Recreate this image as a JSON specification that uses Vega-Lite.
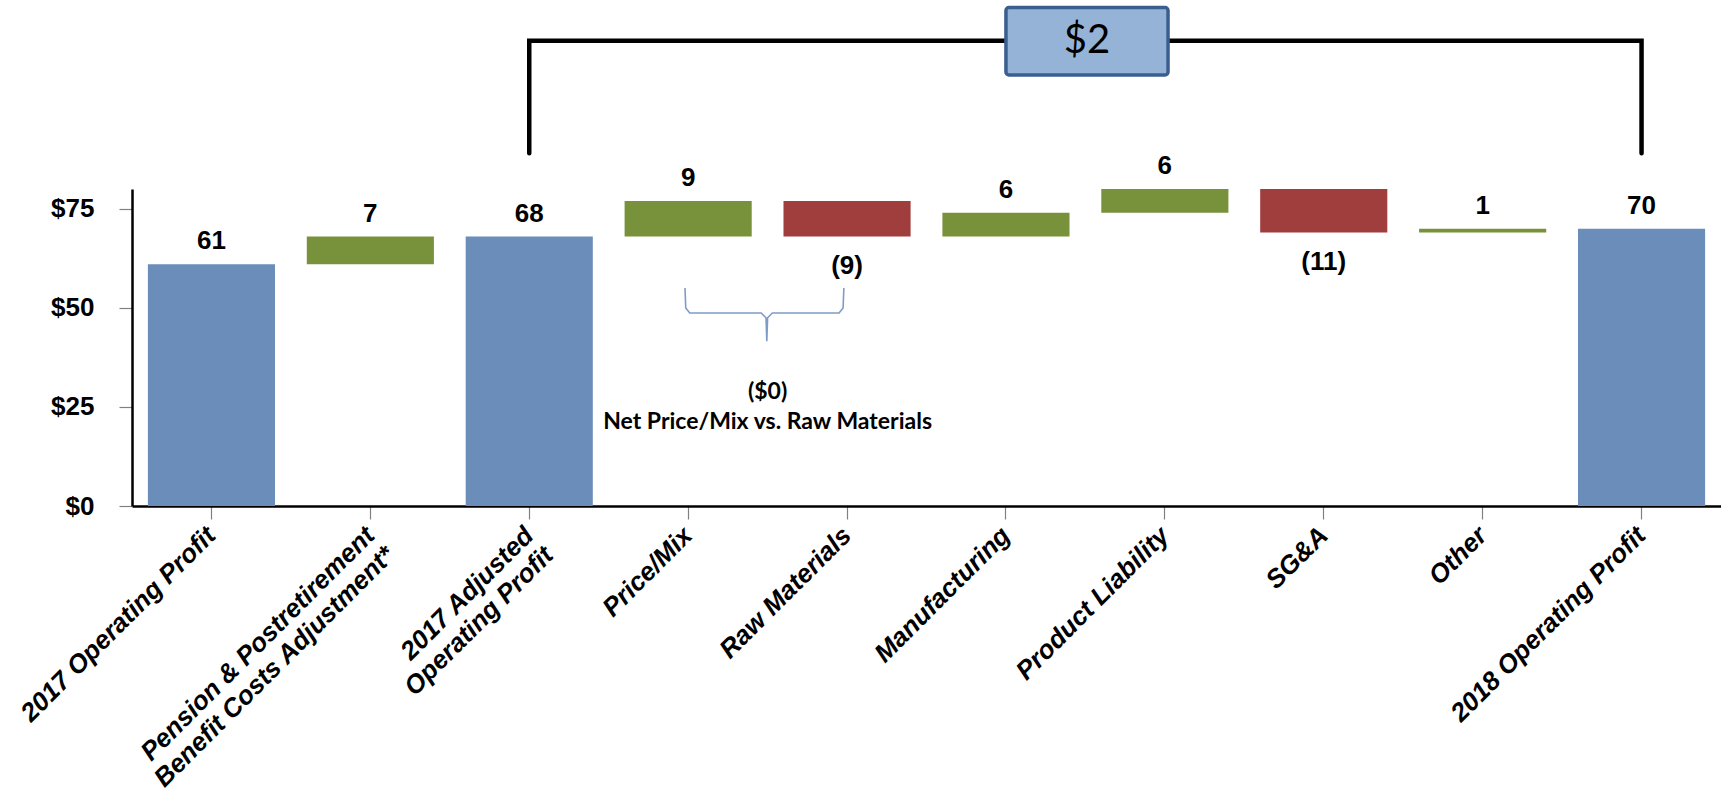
{
  "$schema": "https://vega.github.io/schema/vega-lite/v6.json",
  "width": 1589,
  "height": 317,
  "autosize": {"type": "none"},
  "padding": {"left": 132, "top": 189, "right": 0, "bottom": 291},
  "background": "white",
  "config": {"view": {"stroke": null}},
  "datasets": {
    "bars": [
      {"cat": "2017 Operating Profit", "start": 0, "end": 61, "label": "61", "kind": "total"},
      {"cat": "Pension & Postretirement Benefit Costs Adjustment*", "start": 61, "end": 68, "label": "7", "kind": "inc"},
      {"cat": "2017 Adjusted Operating Profit", "start": 0, "end": 68, "label": "68", "kind": "total"},
      {"cat": "Price/Mix", "start": 68, "end": 77, "label": "9", "kind": "inc"},
      {"cat": "Raw Materials", "start": 77, "end": 68, "label": "(9)", "kind": "dec"},
      {"cat": "Manufacturing", "start": 68, "end": 74, "label": "6", "kind": "inc"},
      {"cat": "Product Liability", "start": 74, "end": 80, "label": "6", "kind": "inc"},
      {"cat": "SG&A", "start": 80, "end": 69, "label": "(11)", "kind": "dec"},
      {"cat": "Other", "start": 69, "end": 70, "label": "1", "kind": "inc"},
      {"cat": "2018 Operating Profit", "start": 0, "end": 70, "label": "70", "kind": "total"}
    ],
    "bracket": [
      {"px": 2.5, "py": 89, "o": 1},
      {"px": 2.5, "py": 117.4, "o": 2},
      {"px": 9.5, "py": 117.4, "o": 3},
      {"px": 9.5, "py": 89, "o": 4}
    ],
    "box": [
      {"x1": 5.5, "x2": 6.52, "y1": 108.8, "y2": 125.8, "xm": 6.01, "ym": 117.3, "label": "$2"}
    ],
    "brace": [
      {"px": 3.48, "py": 55, "o": 1},
      {"px": 3.485, "py": 50, "o": 2},
      {"px": 3.51, "py": 48.7, "o": 3},
      {"px": 3.96, "py": 48.7, "o": 4},
      {"px": 3.99, "py": 47.5, "o": 5},
      {"px": 3.995, "py": 41.6, "o": 6},
      {"px": 4.0, "py": 47.5, "o": 7},
      {"px": 4.03, "py": 48.7, "o": 8},
      {"px": 4.45, "py": 48.7, "o": 9},
      {"px": 4.475, "py": 50, "o": 10},
      {"px": 4.48, "py": 55, "o": 11}
    ],
    "notes": [
      {"px": 4.0, "py": 28.8, "text": "($0)"},
      {"px": 4.0, "py": 21.3, "text": "Net Price/Mix vs. Raw Materials"}
    ]
  },
  "resolve": {"scale": {"x": "independent", "y": "independent"}},
  "layer": [
    {
      "data": {"name": "bars"},
      "encoding": {
        "x": {
          "field": "cat",
          "type": "nominal",
          "sort": null,
          "scale": {"paddingInner": 0.2, "paddingOuter": 0.1},
          "axis": {
            "title": null,
            "labelAngle": -45,
            "labelAlign": "right",
            "labelBaseline": "middle",
            "labelFont": "Liberation Sans",
            "labelFontWeight": "bold",
            "labelFontStyle": "italic",
            "labelFontSize": 26,
            "labelColor": "black",
            "labelLimit": 600,
            "labelPadding": 12,
            "labelLineHeight": 28,
            "labelExpr": "datum.value == 'Pension & Postretirement Benefit Costs Adjustment*' ? ['Pension & Postretirement', 'Benefit Costs Adjustment*'] : datum.value == '2017 Adjusted Operating Profit' ? ['2017 Adjusted', 'Operating Profit'] : datum.value",
            "domainColor": "black",
            "domainWidth": 2.5,
            "tickColor": "#808080",
            "tickSize": 13,
            "tickWidth": 1.2
          }
        }
      },
      "layer": [
        {
          "mark": {"type": "bar"},
          "encoding": {
            "y": {
              "field": "start",
              "type": "quantitative",
              "scale": {"domain": [0, 80], "nice": false},
              "axis": {
                "title": null,
                "values": [0, 25, 50, 75],
                "labelExpr": "'$' + datum.value",
                "labelFont": "Liberation Sans",
                "labelFontWeight": "bold",
                "labelFontSize": 26,
                "labelColor": "black",
                "labelPadding": 25,
                "domainColor": "black",
                "domainWidth": 2.5,
                "tickColor": "#808080",
                "tickSize": 13,
                "tickWidth": 1.2,
                "grid": false
              }
            },
            "y2": {"field": "end"},
            "color": {
              "field": "kind",
              "type": "nominal",
              "scale": {"domain": ["total", "inc", "dec"], "range": ["#6A8DBA", "#78913B", "#A03D3D"]},
              "legend": null
            }
          }
        },
        {
          "transform": [{"filter": "datum.kind != 'dec'"}],
          "mark": {"type": "text", "baseline": "bottom", "dy": -10, "font": "Liberation Sans", "fontWeight": "bold", "fontSize": 26, "color": "black"},
          "encoding": {
            "y": {"field": "end", "type": "quantitative"},
            "text": {"field": "label"}
          }
        },
        {
          "transform": [{"filter": "datum.kind == 'dec'"}],
          "mark": {"type": "text", "baseline": "top", "dy": 16, "font": "Liberation Sans", "fontWeight": "bold", "fontSize": 26, "color": "black"},
          "encoding": {
            "y": {"field": "end", "type": "quantitative"},
            "text": {"field": "label"}
          }
        }
      ]
    },
    {
      "layer": [
        {
          "data": {"name": "bracket"},
          "mark": {"type": "line", "color": "black", "strokeWidth": 4.5, "strokeCap": "round", "strokeJoin": "miter"},
          "encoding": {
            "x": {"field": "px", "type": "quantitative", "scale": {"domain": [0, 10], "nice": false, "zero": false}, "axis": null},
            "y": {"field": "py", "type": "quantitative", "scale": {"domain": [0, 80], "nice": false}, "axis": null},
            "order": {"field": "o"}
          }
        },
        {
          "data": {"name": "box"},
          "mark": {"type": "rect", "fill": "#95B3D7", "stroke": "#3A5F8F", "strokeWidth": 3.5, "cornerRadius": 3},
          "encoding": {
            "x": {"field": "x1", "type": "quantitative"},
            "x2": {"field": "x2"},
            "y": {"field": "y1", "type": "quantitative"},
            "y2": {"field": "y2"}
          }
        },
        {
          "data": {"name": "box"},
          "mark": {"type": "text", "font": "Lato", "fontSize": 40, "color": "black", "baseline": "middle", "align": "center"},
          "encoding": {
            "x": {"field": "xm", "type": "quantitative"},
            "y": {"field": "ym", "type": "quantitative"},
            "text": {"field": "label"}
          }
        },
        {
          "data": {"name": "brace"},
          "mark": {"type": "line", "color": "#7F9CC6", "strokeWidth": 1.6},
          "encoding": {
            "x": {"field": "px", "type": "quantitative"},
            "y": {"field": "py", "type": "quantitative"},
            "order": {"field": "o"}
          }
        },
        {
          "data": {"name": "notes"},
          "mark": {"type": "text", "font": "Lato", "fontWeight": "bold", "fontSize": 23, "color": "black", "baseline": "middle", "align": "center"},
          "encoding": {
            "x": {"field": "px", "type": "quantitative"},
            "y": {"field": "py", "type": "quantitative"},
            "text": {"field": "text"}
          }
        }
      ]
    }
  ]
}
